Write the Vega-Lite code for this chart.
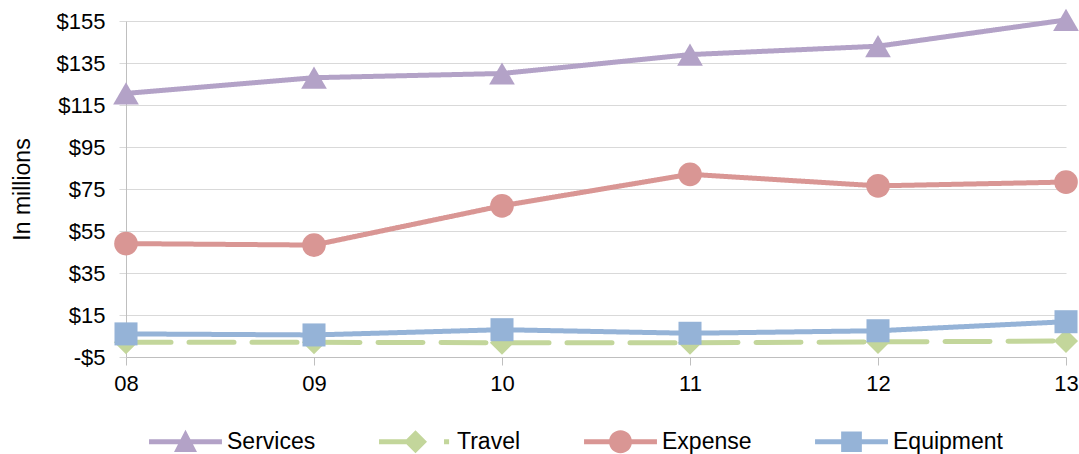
{
  "$schema": "https://vega.github.io/schema/vega-lite/v6.json",
  "width": 940,
  "height": 336,
  "autosize": "none",
  "padding": {"left": 126, "top": 21, "right": 13, "bottom": 97},
  "background": "#ffffff",
  "config": {
    "font": "Liberation Sans",
    "view": {"stroke": null},
    "axis": {"labelFont": "Liberation Sans", "titleFont": "Liberation Sans", "labelColor": "#000000", "titleColor": "#000000"}
  },
  "data": {
    "values": [
      {"year": "08", "series": "Services", "value": 120.5},
      {"year": "09", "series": "Services", "value": 128},
      {"year": "10", "series": "Services", "value": 130},
      {"year": "11", "series": "Services", "value": 139},
      {"year": "12", "series": "Services", "value": 143},
      {"year": "13", "series": "Services", "value": 155.5},
      {"year": "08", "series": "Travel", "value": 2},
      {"year": "09", "series": "Travel", "value": 2},
      {"year": "10", "series": "Travel", "value": 1.8},
      {"year": "11", "series": "Travel", "value": 1.8},
      {"year": "12", "series": "Travel", "value": 2.2},
      {"year": "13", "series": "Travel", "value": 2.6},
      {"year": "08", "series": "Expense", "value": 49},
      {"year": "09", "series": "Expense", "value": 48.3},
      {"year": "10", "series": "Expense", "value": 67},
      {"year": "11", "series": "Expense", "value": 82},
      {"year": "12", "series": "Expense", "value": 76.5},
      {"year": "13", "series": "Expense", "value": 78.3},
      {"year": "08", "series": "Equipment", "value": 6},
      {"year": "09", "series": "Equipment", "value": 5.5},
      {"year": "10", "series": "Equipment", "value": 8},
      {"year": "11", "series": "Equipment", "value": 6.3},
      {"year": "12", "series": "Equipment", "value": 7.5},
      {"year": "13", "series": "Equipment", "value": 11.8}
    ]
  },
  "encoding": {
    "x": {
      "field": "year",
      "type": "ordinal",
      "scale": {"type": "point", "padding": 0},
      "axis": {
        "title": null,
        "labelAngle": 0,
        "labelFontSize": 22,
        "labelPadding": 8,
        "tickSize": 8,
        "tickColor": "#bfbfbf",
        "domainColor": "#bfbfbf",
        "grid": false
      }
    },
    "y": {
      "field": "value",
      "type": "quantitative",
      "scale": {"domain": [-5, 155], "nice": false, "zero": false},
      "axis": {
        "title": "In millions",
        "titleFontSize": 23,
        "titleFontWeight": "normal",
        "titlePadding": 22,
        "values": [-5, 15, 35, 55, 75, 95, 115, 135, 155],
        "labelExpr": "datum.value < 0 ? '-$' + abs(datum.value) : '$' + datum.value",
        "labelFontSize": 22,
        "labelPadding": 14,
        "tickSize": 7,
        "tickColor": "#d9d9d9",
        "gridColor": "#d9d9d9",
        "domainColor": "#bfbfbf"
      }
    }
  },
  "layer": [
    {
      "mark": {"type": "line", "strokeWidth": 5, "strokeCap": "round", "strokeJoin": "round"},
      "encoding": {
        "stroke": {
          "field": "series",
          "type": "nominal",
          "scale": {"domain": ["Services", "Travel", "Expense", "Equipment"], "range": ["#b3a2c7", "#c3d69b", "#d99694", "#95b3d7"]}
        },
        "strokeDash": {
          "condition": {"test": "datum.series === 'Travel'", "value": [45, 18]},
          "value": [1, 0]
        }
      }
    },
    {
      "mark": {"type": "point", "filled": true, "opacity": 1, "strokeWidth": 0},
      "encoding": {
        "shape": {
          "condition": [
            {"test": "datum.series === 'Services'", "value": "triangle-up"},
            {"test": "datum.series === 'Travel'", "value": "diamond"},
            {"test": "datum.series === 'Expense'", "value": "circle"}
          ],
          "value": "square"
        },
        "size": {
          "condition": [
            {"test": "datum.series === 'Services'", "value": 660},
            {"test": "datum.series === 'Travel'", "value": 580},
            {"test": "datum.series === 'Expense'", "value": 560}
          ],
          "value": 530
        },
        "color": {
          "field": "series",
          "type": "nominal",
          "scale": {"domain": ["Services", "Travel", "Expense", "Equipment"], "range": ["#b3a2c7", "#c3d69b", "#d99694", "#95b3d7"]},
          "legend": {
            "title": null,
            "orient": "none",
            "direction": "horizontal",
            "legendX": 48,
            "legendY": 409,
            "columns": 4,
            "symbolSize": 529,
            "symbolStrokeWidth": 0,
            "symbolOpacity": 1,
            "labelFontSize": 23,
            "labelFont": "Liberation Sans",
            "labelColor": "#000000",
            "labelOffset": 30,
            "columnPadding": 63,
            "labelLimit": 300,
            "encode": {
              "symbols": {
                "update": {
                  "shape": {"signal": "datum.value === 'Services' ? 'M-3.17,-0.22H3.17V0.22H-3.17Z M0,-1.05L1,0.9L-1,0.9Z' : datum.value === 'Travel' ? 'M-3.17,-0.22H-0.6V0.22H-3.17Z M0,-1L1,0L0,1L-1,0Z M2.48,-0.22H2.92V0.22H2.48Z' : datum.value === 'Expense' ? 'M-3.17,-0.22H3.17V0.22H-3.17Z M-1,0A1,1 0 1,1 1,0A1,1 0 1,1 -1,0Z' : 'M-3.17,-0.22H3.17V0.22H-3.17Z M-0.9,-0.9H0.9V0.9H-0.9Z'"},
                  "size": {"value": 529},
                  "fill": {"scale": "color", "field": "value"},
                  "stroke": {"value": "transparent"},
                  "strokeWidth": {"value": 0},
                  "strokeDash": {"value": [1, 0]},
                  "opacity": {"value": 1}
                }
              }
            }
          }
        }
      }
    }
  ]
}
